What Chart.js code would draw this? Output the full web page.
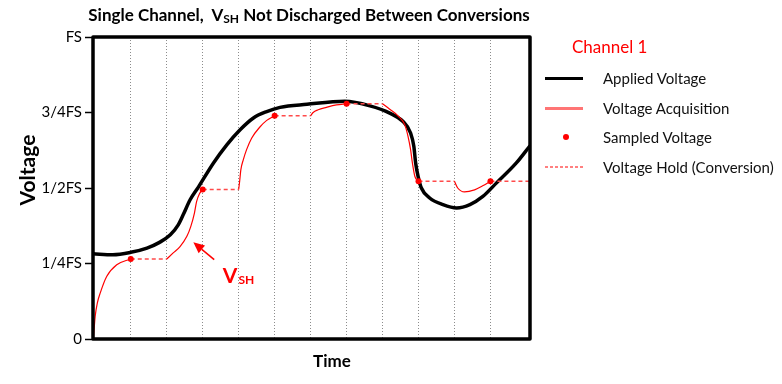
<!DOCTYPE html>
<html>
<head>
<meta charset="utf-8">
<script src="https://cdn.jsdelivr.net/npm/chart.js@4.4.1/dist/chart.umd.min.js"></script>
<style>
  html, body { margin: 0; padding: 0; background: #fff; }
  #wrap { position: relative; width: 782px; height: 384px; font-family: Lato, sans-serif; color: #000; }
  #chart { position: absolute; left: 0; top: 0; }
  .title { position: absolute; left: 0; width: 618px; top: 4px; text-align: center; font-weight: bold; font-size: 17px; white-space: pre; }
  .title sub { font-size: 12px; vertical-align: -2px; }
  .ytitle { position: absolute; left: -23px; top: 157px; width: 100px; height: 26px; line-height: 26px; text-align: center;
            font-weight: bold; font-size: 21px; transform: rotate(-90deg); }
  .xtitle { position: absolute; left: 292px; width: 80px; top: 350px; text-align: center; font-weight: bold; font-size: 17px; }
  .legend-head { position: absolute; left: 572px; top: 36px; font-size: 17px; color: #ff0000; }
  .row { position: absolute; left: 545px; height: 20px; width: 230px; }
  .row .mark { position: absolute; left: 0; width: 38px; top: 9px; }
  .row .txt { position: absolute; left: 58px; top: 1px; font-size: 15px; color: #111; white-space: nowrap; }
</style>
</head>
<body>
<div id="wrap">
  <canvas id="chart" width="782" height="384"></canvas>
  <div class="title">Single Channel,  V<sub>SH</sub> Not Discharged Between Conversions</div>
  <div class="ytitle">Voltage</div>
  <div class="xtitle">Time</div>
  <div class="legend-head">Channel 1</div>
  <div class="row" style="top:68px"><div class="mark" style="height:3px;background:#000"></div><div class="txt">Applied Voltage</div></div>
  <div class="row" style="top:98px"><div class="mark" style="height:3px;background:#ff7575"></div><div class="txt">Voltage Acquisition</div></div>
  <div class="row" style="top:127px"><div class="mark" style="width:6px;height:6px;border-radius:50%;background:#ff0000;left:18px;top:7px"></div><div class="txt">Sampled Voltage</div></div>
  <div class="row" style="top:157px"><div class="mark" style="height:2px;background:repeating-linear-gradient(90deg,#ff8080 0 3px,transparent 3px 5px)"></div><div class="txt">Voltage Hold (Conversion)</div></div>
</div>
<script>
// Time axis: dotted gridlines sit on whole numbers 1..11
// Voltage axis: 0 .. 1 = 0 .. FS
const yTickLabels = ['0', '1/4FS', '1/2FS', '3/4FS', 'FS'];

// Applied voltage (black)
const appliedX = [-0.05, 0.5, 1, 1.45, 1.8, 2.1, 2.32, 2.46, 2.65, 2.88, 3.3, 3.67, 4.04, 4.41, 4.78, 5.15, 5.9, 6.95, 7.65, 8.2, 8.57, 8.78, 8.87, 8.92, 8.99, 9.08, 9.31, 9.68, 10.06, 10.43, 10.79, 11.17, 11.72, 12.1];
const appliedY = [0.282, 0.279, 0.287, 0.301, 0.32, 0.345, 0.378, 0.412, 0.461, 0.503, 0.583, 0.643, 0.693, 0.732, 0.753, 0.767, 0.777, 0.787, 0.772, 0.748, 0.72, 0.682, 0.638, 0.583, 0.538, 0.5, 0.467, 0.445, 0.434, 0.445, 0.472, 0.517, 0.583, 0.64];

// Voltage acquisition (thin red), null = break between acquisition windows
const acqX = [-0.04, 0.01, 0.07, 0.15, 0.33, 0.61, 1, 1.5,
              2, 2.18, 2.37, 2.56, 2.67, 2.77, 2.83, 2.91, 3, 3.5,
              4, 4.03, 4.06, 4.13, 4.22, 4.36, 4.59, 4.78, 5, 5.5,
              6, 6.07, 6.21, 6.44, 6.72, 7, 7.5,
              8, 8.2, 8.43, 8.62, 8.71, 8.78, 8.83, 8.9, 9, 9.5,
              10, 10.09, 10.28, 10.56, 10.8, 11];
const acqY = [0, 0.075, 0.119, 0.152, 0.207, 0.246, 0.265, null,
              0.265, 0.285, 0.306, 0.34, 0.373, 0.417, 0.455, 0.481, 0.495, null,
              0.495, 0.525, 0.56, 0.594, 0.627, 0.665, 0.702, 0.724, 0.739, null,
              0.739, 0.75, 0.759, 0.767, 0.775, 0.779, null,
              0.779, 0.761, 0.739, 0.709, 0.67, 0.627, 0.583, 0.538, 0.522, null,
              0.522, 0.5, 0.487, 0.494, 0.508, 0.522];

// Voltage hold during conversion (dashed red)
const holdX = [1, 2, 2.5, 3, 4, 4.5, 5, 6, 6.5, 7, 8, 8.5, 9, 10, 10.5, 11, 12.1];
const holdY = [0.265, 0.265, null, 0.495, 0.495, null, 0.739, 0.739, null, 0.779, 0.779, null, 0.522, 0.522, null, 0.522, 0.522];

// Sampled voltage (red dots)
const sampleX = [1, 3, 5, 7, 9, 11];
const sampleY = [0.265, 0.495, 0.739, 0.779, 0.522, 0.522];

// V_SH annotation arrow (tail -> head) and label anchor, in axis units
const arrowFrom = [3.32, 0.263];
const arrowTo = [2.74, 0.32];
const labelAt = [3.56, 0.185];

const pts = (xs, ys) => xs.map((x, i) => ({ x: x, y: ys[i] }));
const RED = '#ff0000';

const framePlugin = {
    id: 'frame',
    afterDatasetsDraw(chart) {
        const { ctx, chartArea: a } = chart;
        ctx.save();
        ctx.strokeStyle = '#000';
        ctx.lineWidth = 3.5;
        ctx.lineJoin = 'round';
        ctx.strokeRect(a.left, a.top, a.right - a.left, a.bottom - a.top);
        ctx.restore();
    }
};

const vshPlugin = {
    id: 'vsh',
    afterDatasetsDraw(chart) {
        const { ctx, scales: { x, y } } = chart;
        const x0 = x.getPixelForValue(arrowFrom[0]), y0 = y.getPixelForValue(arrowFrom[1]);
        const x1 = x.getPixelForValue(arrowTo[0]), y1 = y.getPixelForValue(arrowTo[1]);
        const ang = Math.atan2(y1 - y0, x1 - x0);
        const headLen = 11, headW = 5;
        const bx = x1 - Math.cos(ang) * headLen, by = y1 - Math.sin(ang) * headLen;
        ctx.save();
        ctx.strokeStyle = RED;
        ctx.fillStyle = RED;
        ctx.lineWidth = 1.5;
        ctx.beginPath();
        ctx.moveTo(x0, y0);
        ctx.lineTo(bx, by);
        ctx.stroke();
        ctx.beginPath();
        ctx.moveTo(x1, y1);
        ctx.lineTo(bx + Math.sin(ang) * headW, by - Math.cos(ang) * headW);
        ctx.lineTo(bx - Math.sin(ang) * headW, by + Math.cos(ang) * headW);
        ctx.closePath();
        ctx.fill();
        // label V with subscript SH
        const lx = x.getPixelForValue(labelAt[0]), ly = y.getPixelForValue(labelAt[1]);
        ctx.textBaseline = 'alphabetic';
        ctx.textAlign = 'left';
        ctx.font = 'bold 21px Lato, sans-serif';
        ctx.fillText('V', lx, ly);
        const w = ctx.measureText('V').width;
        ctx.font = 'bold 12px Lato, sans-serif';
        ctx.fillText('SH', lx + w + 1, ly + 1);
        ctx.restore();
    }
};

const ctx = document.getElementById('chart').getContext('2d');
const chart = new Chart(ctx, {
    type: 'line',
    data: {
        datasets: [
            {
                label: 'Sampled Voltage',
                data: pts(sampleX, sampleY),
                showLine: false,
                pointRadius: 3,
                pointBackgroundColor: RED,
                pointBorderWidth: 0,
            },
            {
                label: 'Voltage Acquisition',
                data: pts(acqX, acqY),
                borderColor: RED,
                borderWidth: 1.2,
                cubicInterpolationMode: 'monotone',
                spanGaps: false,
                pointRadius: 0,
            },
            {
                label: 'Voltage Hold (Conversion)',
                data: pts(holdX, holdY),
                borderColor: '#ff4a4a',
                borderWidth: 1.5,
                borderDash: [4, 3],
                tension: 0,
                spanGaps: false,
                pointRadius: 0,
            },
            {
                label: 'Applied Voltage',
                data: pts(appliedX, appliedY),
                borderColor: '#000',
                borderWidth: 3.5,
                cubicInterpolationMode: 'monotone',
                pointRadius: 0,
            },
        ]
    },
    options: {
        responsive: false,
        animation: false,
        layout: { padding: { top: 37, right: 252, left: 0, bottom: 0 } },
        plugins: {
            legend: { display: false },
            tooltip: { enabled: false },
        },
        scales: {
            x: {
                type: 'linear',
                min: -0.05,
                max: 12.1,
                afterFit: (s) => { s.height = 45; },
                ticks: { display: false, stepSize: 1, maxTicksLimit: 30 },
                grid: {
                    color: (c) => (c.tick && c.tick.value >= 0.5 && c.tick.value <= 11.5) ? '#8c8c8c' : 'rgba(0,0,0,0)',
                    lineWidth: 1,
                    drawTicks: false,
                },
                border: { display: false, dash: [1, 2] },
            },
            y: {
                type: 'linear',
                min: 0,
                max: 1,
                afterFit: (s) => { s.width = 93; },
                ticks: {
                    stepSize: 0.25,
                    padding: 3,
                    color: '#000',
                    font: { family: 'Lato', size: 15 },
                    callback: (v) => yTickLabels[Math.round(v * 4)],
                },
                grid: {
                    drawOnChartArea: false,
                    drawTicks: true,
                    tickLength: 8,
                    tickColor: '#000',
                    tickWidth: 1.5,
                },
                border: { display: false },
            },
        }
    },
    plugins: [framePlugin, vshPlugin]
});
</script>
</body>
</html>
